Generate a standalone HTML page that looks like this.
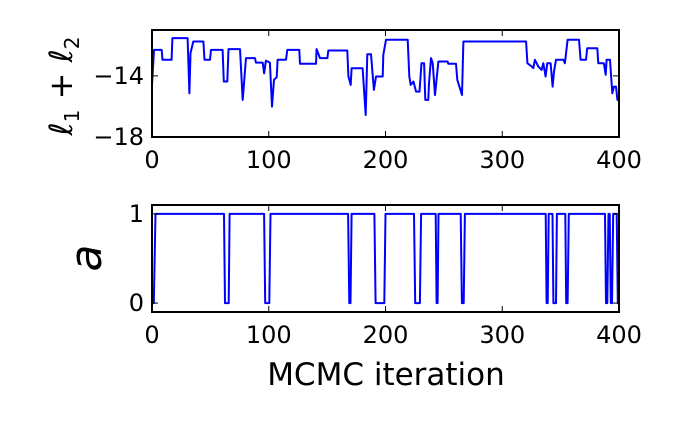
<!DOCTYPE html>
<html><head><meta charset="utf-8"><style>
body{margin:0;background:#fff}
svg text{font-family:"DejaVu Sans","Liberation Sans",sans-serif;fill:#000}
</style></head><body>
<svg id="c" width="677" height="423" viewBox="0 0 677 423">
<g id="top"></g>
<g id="bot"></g>
<text x="386" y="385" font-size="31" text-anchor="middle">MCMC iteration</text>
<text transform="translate(72,86) rotate(-90)" font-size="32" text-anchor="middle" font-family="DejaVu Serif,serif" font-style="italic">ℓ<tspan font-size="20" dy="7" font-style="normal">1</tspan><tspan dy="-7" font-style="normal"> + </tspan>ℓ<tspan font-size="20" dy="7" font-style="normal">2</tspan></text>
<text transform="translate(101,258) rotate(-90)" font-size="44" text-anchor="middle" font-family="DejaVu Serif,serif" font-style="italic">a</text>
</svg>
<script>
const llIter=[0,1.7,8.3,9,16.8,17.5,30.5,32,33,35.4,44,45,49.7,50.5,60.5,61.5,64.5,65.5,75.4,77.7,80.5,88.2,89,94.8,96,97.6,101,102.8,104.5,106.8,107.6,114.8,115.9,126.2,126.8,140.5,141,143.9,150.2,151,167.3,168.2,170.2,171,180.4,183,184.4,187.6,190.1,191.9,197.6,198.1,200.4,219,220.4,221.6,223.9,226.2,229.1,230.8,233.1,234.1,236.7,237.3,239,240.4,242.4,245.3,253.2,253.8,260.4,261.5,265.5,266.7,320.4,321.5,325.2,326.6,328,330.9,333.7,335.2,337.1,338.6,341.4,343.1,344.3,346,352.3,353.7,356,365.7,367.1,371.7,372.8,381.4,382.3,387.1,388.6,389.4,392.3,394.3,395.7,397.4,398.6,400];
const llVal=[-14.59,-12.3,-12.3,-12.95,-12.95,-11.53,-11.53,-15.14,-12.51,-11.75,-11.75,-12.95,-12.95,-12.3,-12.3,-14.37,-14.37,-12.25,-12.25,-15.57,-12.84,-12.84,-13.13,-13.13,-13.83,-13.0,-13.13,-16.01,-14.26,-14.09,-12.95,-12.95,-12.3,-12.3,-13.21,-13.21,-12.25,-12.84,-12.84,-12.34,-12.34,-14.04,-14.59,-13.5,-13.5,-16.56,-12.58,-12.58,-14.92,-14.04,-14.04,-12.62,-11.64,-11.64,-14.04,-14.59,-14.37,-15.03,-15.03,-13.17,-13.17,-15.57,-15.57,-14.48,-12.84,-13.17,-15.25,-13.06,-13.06,-13.21,-13.21,-14.26,-15.25,-11.75,-11.75,-13.17,-13.39,-13.5,-12.95,-13.39,-13.61,-13.17,-14.04,-13.17,-13.17,-14.7,-13.72,-12.95,-12.95,-13.17,-11.64,-11.64,-12.95,-12.95,-12.19,-12.19,-13.17,-13.17,-13.93,-12.95,-12.95,-15.14,-14.7,-14.7,-15.57,-15.57];
const aIter=[0,1.5,3,61.7,62.5,65.7,66.5,96,97,100.5,101.5,168,169,170,171,190.5,191.5,199,200,224.4,225.4,229.5,230.5,243,243.8,244.6,245.4,264.4,265.4,267,268,337.2,338,338.9,339.8,343,343.8,346,346.8,354,354.8,356,357,388,388.9,390,391,392,393,394,395,398,399,400];
const aVal=[0,0,1,1,0,0,1,1,0,0,1,1,0,0,1,1,0,0,1,1,0,0,1,1,0,0,1,1,0,0,1,1,0,0,1,1,0,0,1,1,0,0,1,1,0,0,1,1,0,0,1,1,0,0];
const xTicks=[0,100,200,300,400];
const topYTicks=[-18,-14];
const botYTicks=[0,1];
const NS='http://www.w3.org/2000/svg';
const X0=152,X1=619;
const xs=v=>X0+(v-0)/400*(X1-X0);
function el(p,t,a){const e=document.createElementNS(NS,t);for(const k in a)e.setAttribute(k,a[k]);p.appendChild(e);return e;}
function panel(g,y0,y1,vmin,vmax,it,vals,yt,nm,xlabY){
  const ys=v=>y1-(v-vmin)/(vmax-vmin)*(y1-y0);
  const pts=it.map((x,i)=>xs(x).toFixed(1)+','+ys(vals[i]).toFixed(1)).join(' ');
  const l=el(g,'polyline',{points:pts,fill:'none',stroke:'#0000ff','stroke-width':2,'stroke-linejoin':'round'});
  
  
  const r=el(g,'rect',{x:X0,y:y0,width:X1-X0,height:y1-y0,fill:'none',stroke:'#000','stroke-width':2});
  
  
  xTicks.forEach(t=>{
    const x=xs(t);
    el(g,'line',{x1:x,x2:x,y1:y1,y2:y1-6,stroke:'#000','stroke-width':1});
    el(g,'line',{x1:x,x2:x,y1:y0,y2:y0+6,stroke:'#000','stroke-width':1});
    const tx=el(g,'text',{x:x,y:xlabY,'font-size':24,'text-anchor':'middle'});
    tx.textContent=t;
    
    
  });
  yt.forEach(t=>{
    const y=ys(t);
    el(g,'line',{x1:X0,x2:X0+6,y1:y,y2:y,stroke:'#000','stroke-width':1});
    el(g,'line',{x1:X1,x2:X1-6,y1:y,y2:y,stroke:'#000','stroke-width':1});
    const tx=el(g,'text',{x:X0-8,y:y+8,'font-size':24,'text-anchor':'end'});
    tx.textContent=t<0?'\u2212'+(-t):t;
    
    
  });
}
panel(document.getElementById('top'),30,137,-18,-11,llIter,llVal,topYTicks,'log-likelihood',168);
panel(document.getElementById('bot'),205,312,-0.1,1.1,aIter,aVal,botYTicks,'acceptance',343);
</script>
</body></html>
